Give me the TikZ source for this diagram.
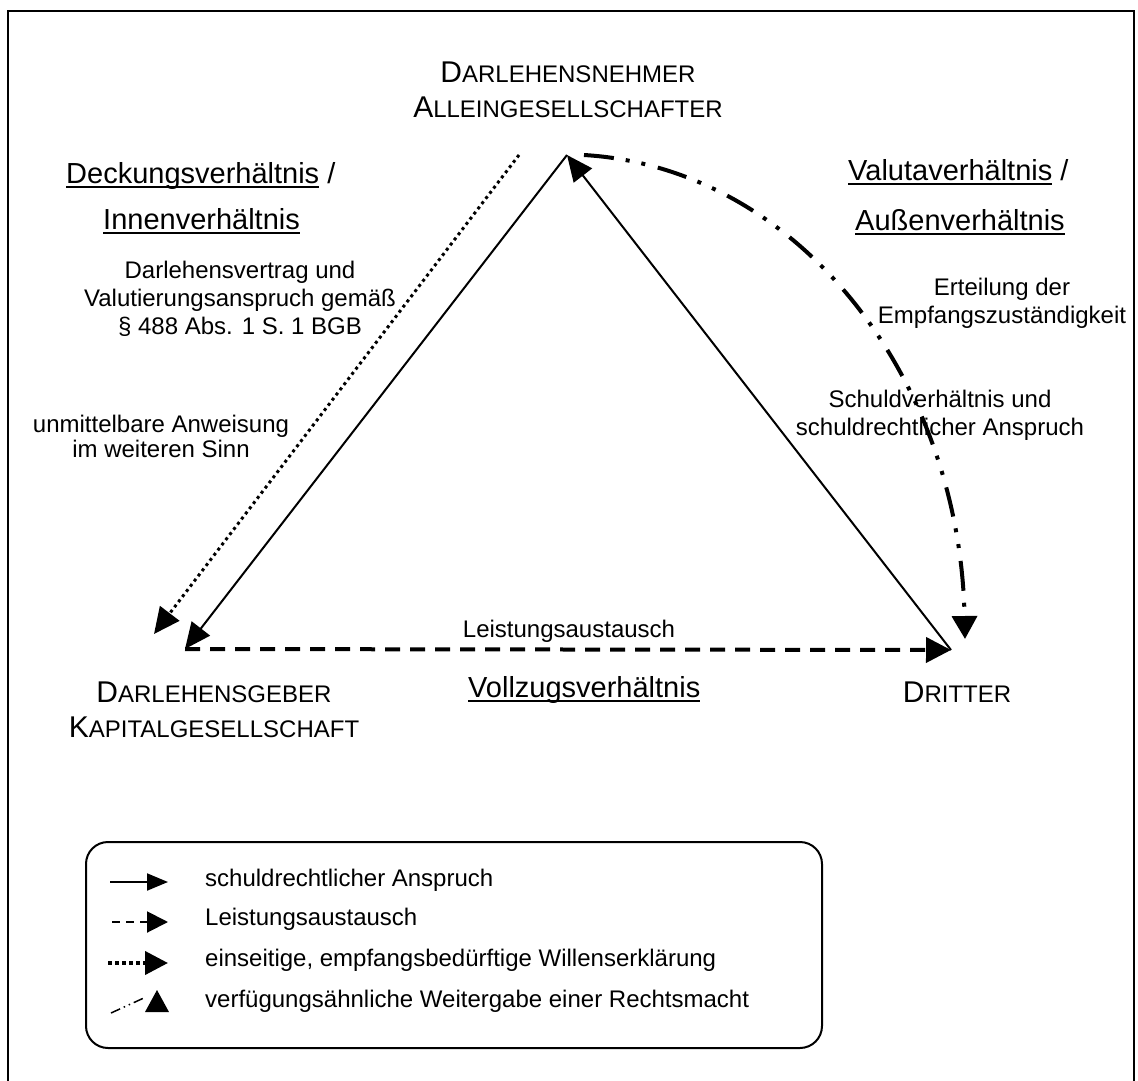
\documentclass[tikz,border=0pt]{standalone}
\usepackage{fontspec}
\setmainfont{Liberation Sans}
\usetikzlibrary{arrows.meta}

% underlined text with the rule just below the baseline
\newsavebox\ulbox
\newcommand\ulin[1]{\sbox\ulbox{#1}\rlap{\rule[-4.5pt]{\wd\ulbox}{2pt}}\usebox\ulbox}
% party names in small capitals: large initial, smaller rest
\newcommand\capword[2]{{\fontsize{30}{35}\selectfont #1}{\fontsize{24}{35}\selectfont #2}}

\begin{document}
\begin{tikzpicture}[x=1pt,y=-1pt,
  frame/.style={line width=2pt},
  claim/.style={line width=2pt,-{Triangle[length=26pt,width=23pt]}},
  perf/.style={line width=4pt,dash pattern=on 15pt off 10pt,-{Triangle[length=25pt,width=25pt]}},
  decl/.style={line width=3pt,dash pattern=on 3pt off 3.5pt,-{Triangle[length=26pt,width=24pt]}},
  grant/.style={line width=4pt,dash pattern=on 30pt off 12pt on 4pt off 12pt on 4pt off 13pt,-{Triangle[length=23pt,width=25pt]}},
  party/.style={inner sep=0pt,align=center,font=\fontsize{24}{35}\selectfont},
  rel/.style={inner sep=0pt,anchor=base west,font=\fontsize{29}{34}\selectfont},
  lbl/.style={inner sep=0pt,align=center,font=\fontsize{24}{28}\selectfont},
  key/.style={inner sep=0pt,anchor=base west,font=\fontsize{24}{28}\selectfont},
  keybox/.style={line width=2pt,rounded corners=22pt}
]
\useasboundingbox (0,0) rectangle (1138,1081);
\draw[frame] (8,1084) -- (8,11) -- (1134,11) -- (1134,1084);

% corners of the triangle
\coordinate (A) at (567,155);
\coordinate (B) at (185,649);
\coordinate (C) at (951,650);
\coordinate (Adecl) at (519,155);
\coordinate (Bdecl) at (154,634);
\coordinate (Agrant) at (584,155);
\coordinate (Cgrant) at (965,639);

% relations
\draw[claim] (A) -- (B);
\draw[claim] (C) -- (A);
\draw[perf] (B) -- (C);
\draw[decl] (Adecl) -- (Bdecl);
\draw[grant] (Agrant) .. controls (800,168) and (960,380) .. (Cgrant);

% parties
\node[party] (borrower) at (568,90) {\capword{D}{ARLEHENSNEHMER}\\\capword{A}{LLEINGESELLSCHAFTER}};
\node[party] (lender) at (214,710) {\capword{D}{ARLEHENSGEBER}\\\capword{K}{APITALGESELLSCHAFT}};
\node[party,anchor=base] (third) at (957,702) {\capword{D}{RITTER}};

% names of the relations
\node[rel] (cover1) at (66,183) {\ulin{Deckungsverhältnis} /};
\node[rel] (cover2) at (103,229) {\ulin{Innenverhältnis}};
\node[rel] (value1) at (848,180) {\ulin{Valutaverhältnis} /};
\node[rel] (value2) at (855,230) {\ulin{Außenverhältnis}};
\node[rel] (exec) at (468,697) {\ulin{Vollzugsverhältnis}};

% labels of the arrows
\node[lbl] (loan) at (240,299) {Darlehensvertrag und\\Valutierungsanspruch gemäß\\§ 488 Abs. 1 S. 1 BGB};
\node[lbl,font=\fontsize{24}{25}\selectfont] (order) at (161,436) {unmittelbare Anweisung\\im weiteren Sinn};
\node[lbl] (auth) at (1002,303) {Erteilung der\\Empfangszuständigkeit};
\node[lbl] (debt) at (940,415) {Schuldverhältnis und\\schuldrechtlicher Anspruch};
\node[lbl,anchor=base] (exch) at (569,637) {Leistungsaustausch};

% key
\draw[keybox] (86,842) rectangle (822,1048);
\coordinate (k1a) at (110,882); \coordinate (k1b) at (168,882);
\coordinate (k2a) at (112,922); \coordinate (k2b) at (168,922);
\coordinate (k3a) at (108,963); \coordinate (k3b) at (168,963);
\draw[line width=2pt,-{Triangle[length=21pt,width=17pt]}] (k1a) -- (k1b);
\draw[line width=2pt,dash pattern=on 8pt off 6pt,-{Triangle[length=21pt,width=21pt]}] (k2a) -- (k2b);
\draw[line width=4pt,dash pattern=on 4pt off 3pt,-{Triangle[length=23pt,width=23pt]}] (k3a) -- (k3b);
\coordinate (k4a) at (111,1013); \coordinate (k4b) at (146,997);
\draw[line width=1.5pt,dash pattern=on 10pt off 4pt on 1.5pt off 4pt on 1.5pt off 4pt] (k4a) -- (k4b);
\fill (145,1012) -- (169,1012) -- (157,990) -- cycle;
\node[key] (key1) at (205,886) {schuldrechtlicher Anspruch};
\node[key] (key2) at (205,925) {Leistungsaustausch};
\node[key] (key3) at (205,966) {einseitige, empfangsbedürftige Willenserklärung};
\node[key] (key4) at (205,1007) {verfügungsähnliche Weitergabe einer Rechtsmacht};
\end{tikzpicture}
\end{document}
